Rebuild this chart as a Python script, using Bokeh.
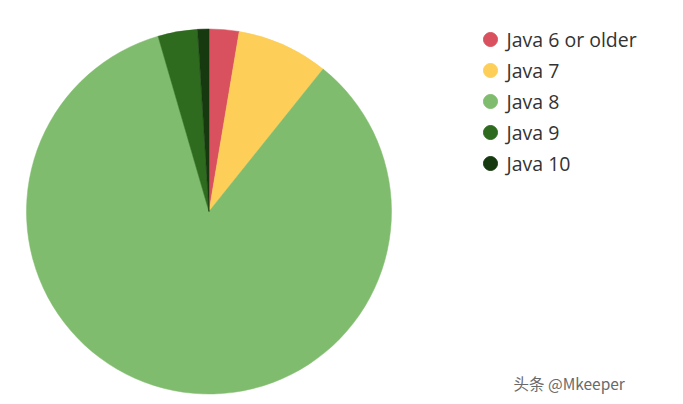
import math
from bokeh.plotting import figure
from bokeh.models import ColumnDataSource
from bokeh.core.properties import value
from bokeh.embed import file_html
from bokeh.resources import INLINE

categories = ["Java 6 or older", "Java 7", "Java 8", "Java 9", "Java 10"]
shares = [2.65, 8.1, 84.75, 3.5, 1.0]
colors = ["#d9515e", "#fdcf58", "#80bc6e", "#2e6b1f", "#16390f"]
watermark = "头条 @Mkeeper"

W, H = 675, 396
p = figure(width=W, height=H, x_range=(0, W), y_range=(0, H), min_border=0,
           toolbar_location=None, output_backend="svg")
p.axis.visible = False
p.grid.visible = False
p.outline_line_color = None
p.background_fill_color = "white"

total = sum(shares)
starts, ends = [], []
acc = 0.0
for s in shares:
    a0 = math.pi / 2 - 2 * math.pi * acc / total
    acc += s
    a1 = math.pi / 2 - 2 * math.pi * acc / total
    starts.append(a0)
    ends.append(a1)

cx, cy, r = 208.5, H - 211.0, 182.5
src = ColumnDataSource(dict(start=starts, end=ends, color=colors, cat=categories))
p.wedge(x=cx, y=cy, radius=r, start_angle="start", end_angle="end",
        direction="clock", fill_color="color", line_color="color", line_width=0.5,
        source=src)

# legend
lx, ly0, dy = 490, H - 39, 31.0
ys = [ly0 - i * dy for i in range(len(categories))]
lsrc = ColumnDataSource(dict(x=[lx] * len(categories), tx=[lx + 16] * len(categories),
                             y=ys, color=colors, cat=categories))
p.scatter(x="x", y="y", size=14, marker="circle", fill_color="color",
          line_color="color", source=lsrc)
p.text(x="tx", y="y", text="cat", source=lsrc, text_font=value("Open Sans"),
       text_font_size="19.5px", text_color="#333333", text_baseline="middle",
       text_align="left")

p.text(x=[513], y=[H - 382], text=[watermark], text_font=value("Noto Sans CJK SC"),
       text_font_size="15.5px", text_color="#6a6a6a", text_baseline="middle",
       text_align="left")

open("out.html", "w").write(file_html(p, INLINE))
